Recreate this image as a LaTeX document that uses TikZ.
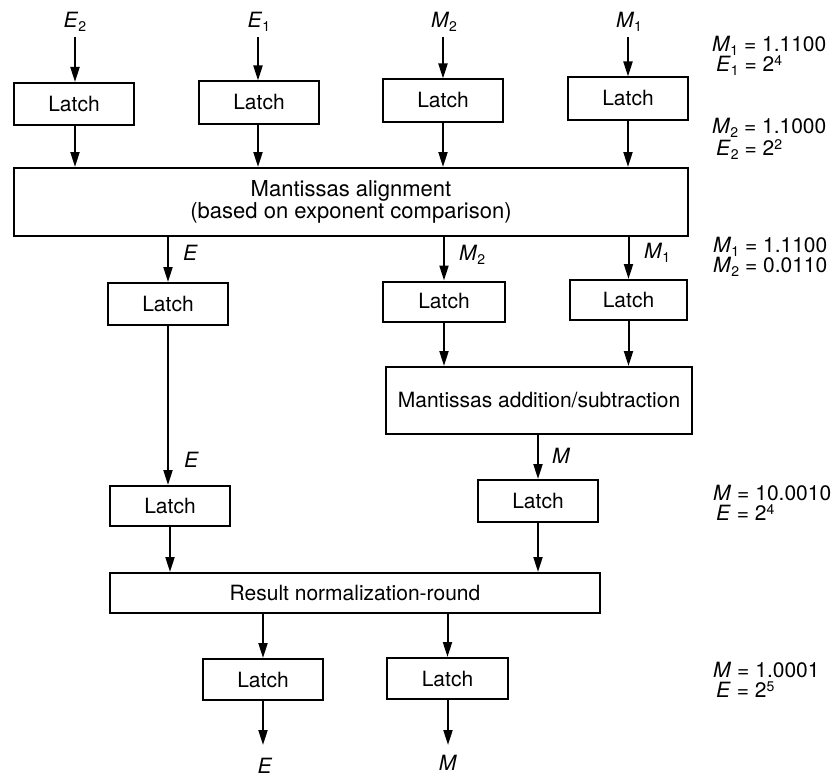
\documentclass[tikz,border=0pt]{standalone}
\usepackage{fontspec}
\setmainfont{TeX Gyre Heros}
\usetikzlibrary{arrows.meta}

% italic variable names with small lowered indices, powers with small raised exponents
\newcommand{\idx}[1]{\smash{\raisebox{-4pt}{\fontsize{14}{14}\selectfont #1}}}
\newcommand{\var}[2]{\textit{#1}\idx{#2}}
\newcommand{\pow}[2]{#1\smash{\raisebox{5.5pt}{\fontsize{14}{14}\selectfont #2}}}

\begin{document}
\begin{tikzpicture}[x=1pt,y=-1pt,
    every node/.style={font=\fontsize{21}{19}\selectfont},
    blk/.style={draw, line width=2pt, inner sep=0pt, align=center},
    latch/.style={blk, minimum width=120pt, minimum height=42pt},
    arr/.style={line width=2pt, -{Triangle[length=15pt,width=9pt]}},
    lbl/.style={inner sep=0pt, anchor=base west},
    inlbl/.style={inner sep=0pt, anchor=base},
    ann/.style={inner sep=0pt, anchor=base west}]
  \useasboundingbox (0,0) rectangle (833,776);

  % input latches
  \node[latch] (la1) at (74,104)   {Latch};
  \node[latch] (la2) at (259,102.5){Latch};
  \node[latch] (la3) at (443,100.5){Latch};
  \node[latch] (la4) at (628,98.5) {Latch};

  % inputs
  \node[inlbl] (iE2) at (75,28)  {\var{E}{2}};
  \node[inlbl] (iE1) at (259,28) {\var{E}{1}};
  \node[inlbl] (iM2) at (444,28) {\var{M}{2}};
  \node[inlbl] (iM1) at (629,28) {\var{M}{1}};
  \coordinate (tE2) at (75,37);
  \coordinate (tE1) at (258,37);
  \coordinate (tM2) at (443,37);
  \coordinate (tM1) at (628,37);

  % alignment stage
  \node[blk, minimum width=674pt, minimum height=68pt,
        font=\fontsize{22}{19}\selectfont] (align) at (351,202)
    {Mantissas alignment\\(based on exponent comparison)};

  % second latch row
  \node[latch] (le2) at (168,304) {Latch};
  \node[latch, minimum width=122pt, minimum height=40pt] (lm2) at (444,301.5) {Latch};
  \node[latch, minimum width=117pt, minimum height=40pt] (lm1) at (628.5,300) {Latch};

  % addition / subtraction
  \node[blk, minimum width=306pt, minimum height=67pt] (addsub) at (539,400.5)
    {Mantissas addition/subtraction};

  % third latch row
  \node[latch, minimum height=40pt] (le3) at (170,506) {Latch};
  \node[latch] (lm3) at (538,501) {Latch};

  % normalization
  \node[blk, minimum width=490pt, minimum height=40pt] (res) at (355,593)
    {Result normalization-round};

  % output latches
  \node[latch, minimum height=41pt] (lo1) at (263,679.5) {Latch};
  \node[latch, minimum width=121pt, minimum height=41pt] (lo2) at (447.5,678.5) {Latch};
  \coordinate (oE) at (263,745);
  \coordinate (oM) at (448,745);
  \node[inlbl] (outE) at (265,773) {\textit{E}};
  \node[inlbl] (outM) at (448,770) {\textit{M}};

  % connectors
  \draw[arr] (tE2) -- (tE2 |- la1.north);
  \draw[arr] (tE1) -- (tE1 |- la2.north);
  \draw[arr] (tM2) -- (tM2 |- la3.north);
  \draw[arr] (tM1) -- (tM1 |- la4.north);

  \draw[arr] (tE2 |- la1.south) -- (tE2 |- align.north);
  \draw[arr] (tE1 |- la2.south) -- (tE1 |- align.north);
  \draw[arr] (tM2 |- la3.south) -- (tM2 |- align.north);
  \draw[arr] (tM1 |- la4.south) -- (tM1 |- align.north);

  \draw[arr] (le2.north |- align.south) -- (le2.north);
  \draw[arr] (lm2.north |- align.south) -- (lm2.north);
  \draw[arr] (lm1.north |- align.south) -- (lm1.north);

  \draw[arr] (le2.south) -- (le2.south |- le3.north);
  \draw[arr] (lm2.south) -- (lm2.south |- addsub.north);
  \draw[arr] (lm1.south) -- (lm1.south |- addsub.north);
  \draw[arr] (lm3.north |- addsub.south) -- (lm3.north);

  \draw[arr] (le3.south) -- (le3.south |- res.north);
  \draw[arr] (lm3.south) -- (lm3.south |- res.north);
  \draw[arr] (lo1.north |- res.south) -- (lo1.north);
  \draw[arr] (lo2.north |- res.south) -- (lo2.north);

  \draw[arr] (lo1.south) -- (oE);
  \draw[arr] (lo2.south -| oM) -- (oM);

  % connector labels
  \node[lbl] (lE1) at (183,260) {\textit{E}};
  \node[lbl] (lM2) at (459,260) {\var{M}{2}};
  \node[lbl] (lM1) at (644,258) {\var{M}{1}};
  \node[lbl] (lE2) at (184,467) {\textit{E}};
  \node[lbl] (lM)  at (552,463) {\textit{M}};

  % worked example values
  \node[ann] (a1)  at (712,52)  {\var{M}{1} = 1.1100};
  \node[ann] (a2)  at (716,71)  {\var{E}{1} = \pow{2}{4}};
  \node[ann] (a3)  at (712,133) {\var{M}{2} = 1.1000};
  \node[ann] (a4)  at (716,155) {\var{E}{2} = \pow{2}{2}};
  \node[ann] (a5)  at (713,252) {\var{M}{1} = 1.1100};
  \node[ann] (a6)  at (713,272) {\var{M}{2} = 0.0110};
  \node[ann] (a7)  at (713,500) {\textit{M} = 10.0010};
  \node[ann] (a8)  at (716,520) {\textit{E} = \pow{2}{4}};
  \node[ann] (a9)  at (713,677) {\textit{M} = 1.0001};
  \node[ann] (a10) at (716,697) {\textit{E} = \pow{2}{5}};
\end{tikzpicture}
\end{document}
